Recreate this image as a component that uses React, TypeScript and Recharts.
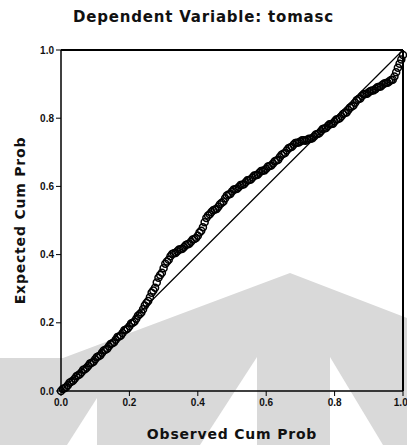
import { ScatterChart, Scatter, XAxis, YAxis, ReferenceLine, Label } from 'recharts';

// P-P plot: observed vs expected cumulative probability
const observed = [
  0.0, 0.01, 0.02, 0.03, 0.04, 0.05, 0.06, 0.07, 0.08, 0.09,
  0.1, 0.11, 0.12, 0.13, 0.14, 0.15, 0.16, 0.17, 0.18, 0.19,
  0.2, 0.21, 0.22, 0.23, 0.24, 0.25, 0.26, 0.27, 0.28, 0.29,
  0.3, 0.31, 0.32, 0.33, 0.34, 0.35, 0.36, 0.37, 0.38, 0.39,
  0.4, 0.41, 0.42, 0.43, 0.44, 0.45, 0.46, 0.47, 0.48, 0.49,
  0.5, 0.51, 0.52, 0.53, 0.54, 0.55, 0.56, 0.57, 0.58, 0.59,
  0.6, 0.61, 0.62, 0.63, 0.64, 0.65, 0.66, 0.67, 0.68, 0.69,
  0.7, 0.71, 0.72, 0.73, 0.74, 0.75, 0.76, 0.77, 0.78, 0.79,
  0.8, 0.81, 0.82, 0.83, 0.84, 0.85, 0.86, 0.87, 0.88, 0.89,
  0.9, 0.91, 0.92, 0.93, 0.94, 0.95, 0.96, 0.97, 0.98, 0.99, 1.0,
];

const expected = [
  0.0, 0.008, 0.017, 0.027, 0.036, 0.046, 0.055, 0.064, 0.074, 0.083,
  0.093, 0.102, 0.112, 0.121, 0.131, 0.14, 0.15, 0.16, 0.17, 0.18,
  0.19, 0.2, 0.212, 0.225, 0.24, 0.258, 0.275, 0.295, 0.318, 0.34,
  0.36, 0.38, 0.395, 0.404, 0.41, 0.416, 0.422, 0.43, 0.438, 0.446,
  0.455, 0.47, 0.495, 0.515, 0.525, 0.532, 0.54, 0.552, 0.565, 0.576,
  0.585, 0.592, 0.598, 0.605, 0.612, 0.619, 0.626, 0.633, 0.64, 0.646,
  0.652, 0.66, 0.667, 0.676, 0.686, 0.696, 0.705, 0.714, 0.722, 0.728,
  0.732, 0.735, 0.737, 0.74, 0.746, 0.754, 0.762, 0.77, 0.777, 0.783,
  0.79, 0.798, 0.806, 0.815, 0.824, 0.834, 0.845, 0.856, 0.865, 0.871,
  0.876, 0.881, 0.886, 0.892, 0.898, 0.903, 0.908, 0.913, 0.935, 0.96, 0.985,
];

// the in-between cases, which thicken the band of rings
const observedMid = [
  0.005, 0.015, 0.025, 0.035, 0.045, 0.055, 0.065, 0.075, 0.085, 0.095,
  0.105, 0.115, 0.125, 0.135, 0.145, 0.155, 0.165, 0.175, 0.185, 0.195,
  0.205, 0.215, 0.225, 0.235, 0.245, 0.255, 0.265, 0.275, 0.285, 0.295,
  0.305, 0.315, 0.325, 0.335, 0.345, 0.355, 0.365, 0.375, 0.385, 0.395,
  0.405, 0.415, 0.425, 0.435, 0.445, 0.455, 0.465, 0.475, 0.485, 0.495,
  0.505, 0.515, 0.525, 0.535, 0.545, 0.555, 0.565, 0.575, 0.585, 0.595,
  0.605, 0.615, 0.625, 0.635, 0.645, 0.655, 0.665, 0.675, 0.685, 0.695,
  0.705, 0.715, 0.725, 0.735, 0.745, 0.755, 0.765, 0.775, 0.785, 0.795,
  0.805, 0.815, 0.825, 0.835, 0.845, 0.855, 0.865, 0.875, 0.885, 0.895,
  0.905, 0.915, 0.925, 0.935, 0.945, 0.955, 0.965, 0.975, 0.985, 0.995,
];

const expectedMid = [
  0.006, 0.011, 0.024, 0.03, 0.043, 0.049, 0.062, 0.068, 0.081, 0.086,
  0.1, 0.105, 0.119, 0.124, 0.138, 0.143, 0.158, 0.163, 0.178, 0.183,
  0.198, 0.204, 0.221, 0.23, 0.251, 0.264, 0.288, 0.303, 0.332, 0.347,
  0.373, 0.385, 0.402, 0.405, 0.415, 0.417, 0.428, 0.432, 0.444, 0.449,
  0.465, 0.48, 0.507, 0.518, 0.53, 0.534, 0.548, 0.556, 0.573, 0.578,
  0.591, 0.593, 0.604, 0.606, 0.618, 0.62, 0.632, 0.634, 0.645, 0.647,
  0.658, 0.661, 0.674, 0.678, 0.693, 0.698, 0.712, 0.716, 0.727, 0.729,
  0.735, 0.734, 0.74, 0.741, 0.752, 0.756, 0.768, 0.771, 0.782, 0.784,
  0.796, 0.8, 0.812, 0.817, 0.831, 0.837, 0.853, 0.858, 0.87, 0.872,
  0.88, 0.882, 0.891, 0.893, 0.902, 0.904, 0.912, 0.922, 0.948, 0.972,
];

const ticks = [0, 0.2, 0.4, 0.6, 0.8, 1.0];

const points = [
  ...observed.map((x, i) => ({ x, y: expected[i] })),
  ...observedMid.map((x, i) => ({ x, y: expectedMid[i] })),
];

const font = 'DejaVu Sans, Verdana, sans-serif';
const tickStyle = { fill: '#111', fontSize: 10, fontWeight: 700, fontFamily: 'Liberation Sans, Arial, sans-serif' };
const fmt = (v: number) => v.toFixed(1);

const Ring = (p: any) => (
  <circle cx={p.cx} cy={p.cy} r={3.5} fill="none" stroke="#000" strokeWidth={1.5} />
);

export default function App() {
  return (
    <div style={{ position: 'absolute', left: 0, top: 0, width: 407, height: 445, background: '#fff', overflow: 'hidden' }}>
      {/* faint scan watermark behind the plot */}
      <svg width={407} height={445} style={{ position: 'absolute', left: 0, top: 0 }}>
        <polygon points="0,358 63,358 290,273 407,318 407,445 0,445" fill="#d9d9d9" />
        <polygon points="257,357 257,445 200,445" fill="#fff" />
        <polygon points="330,357 330,445 383,445" fill="#fff" />
        <polygon points="97,398 97,445 67,445" fill="#fff" />
      </svg>
      <div
        style={{
          position: 'absolute', left: 0, top: 8, width: 407, textAlign: 'center',
          fontFamily: font, fontWeight: 700, fontSize: 15, color: '#111',
          letterSpacing: 0.8,
        }}
      >
        Dependent Variable: tomasc
      </div>
      <div style={{ position: 'absolute', left: 0, top: 0 }}>
        <ScatterChart width={407} height={445} margin={{ top: 50, right: 4, bottom: 0, left: 0 }}>
          <XAxis
            type="number"
            dataKey="x"
            domain={[0, 1]}
            ticks={ticks}
            tickFormatter={fmt}
            height={54}
            tick={tickStyle}
            tickSize={5}
            tickMargin={3}
            axisLine={{ stroke: '#000', strokeWidth: 1.5 }}
            tickLine={{ stroke: '#000' }}
          >
            <Label
              value="Observed Cum Prob"
              position="insideBottom"
              offset={6}
              style={{ fill: '#111', fontSize: 14, fontWeight: 700, fontFamily: font, letterSpacing: 0.8 }}
            />
          </XAxis>
          <YAxis
            type="number"
            dataKey="y"
            domain={[0, 1]}
            ticks={ticks}
            tickFormatter={fmt}
            width={61}
            tick={tickStyle}
            tickSize={5}
            tickMargin={2}
            axisLine={{ stroke: '#000', strokeWidth: 1.5 }}
            tickLine={{ stroke: '#000' }}
          >
            <Label
              value="Expected Cum Prob"
              angle={-90}
              position="insideLeft"
              offset={20}
              style={{ textAnchor: 'middle', fill: '#111', fontSize: 14, fontWeight: 700, fontFamily: font, letterSpacing: 0.8 }}
            />
          </YAxis>
          <ReferenceLine y={1} stroke="#000" strokeWidth={2} />
          <ReferenceLine x={1} stroke="#000" strokeWidth={2} />
          <ReferenceLine segment={[{ x: 0, y: 0 }, { x: 1, y: 1 }]} stroke="#000" strokeWidth={1.2} />
          <Scatter data={points} shape={Ring} isAnimationActive={false} />
        </ScatterChart>
      </div>
    </div>
  );
}
